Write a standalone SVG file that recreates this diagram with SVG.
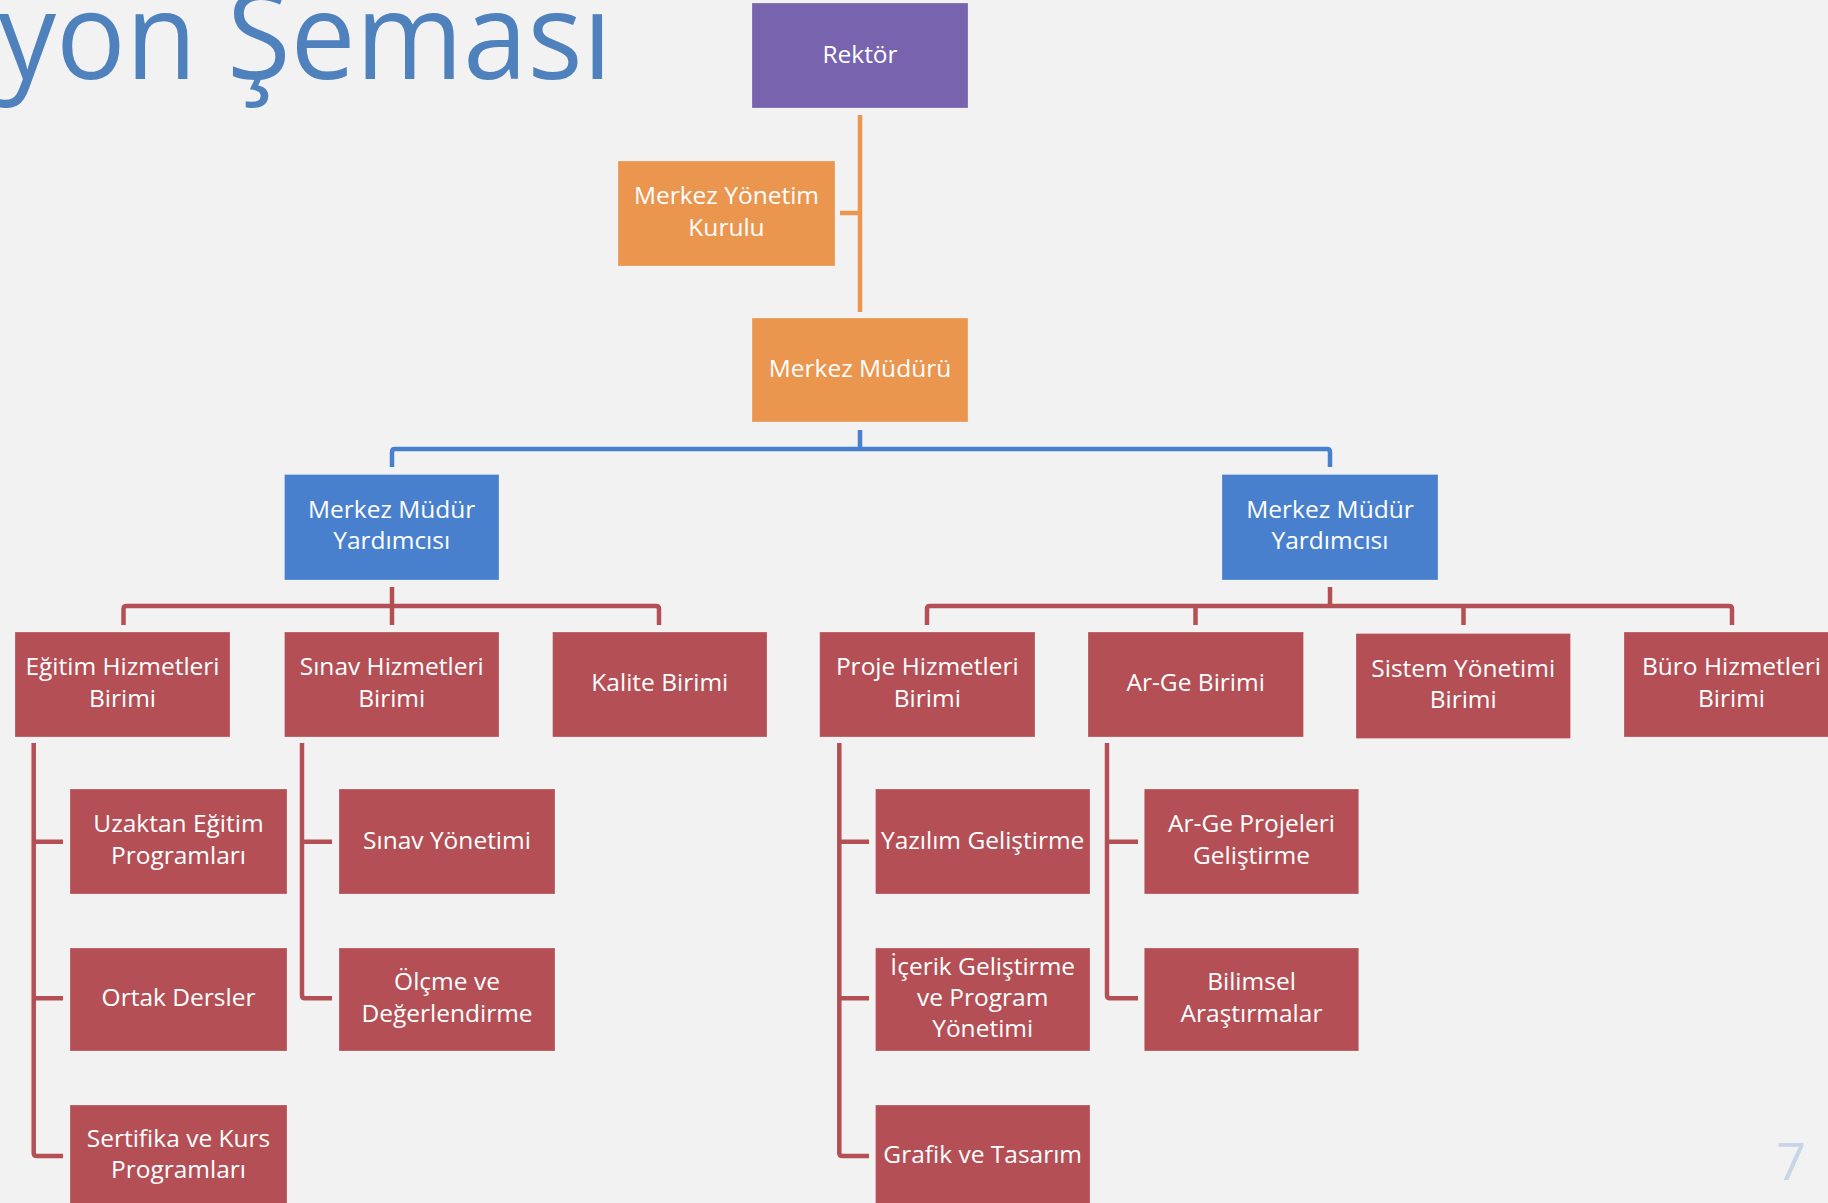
<svg xmlns="http://www.w3.org/2000/svg" width="1828" height="1203" viewBox="0 0 1828 1203">
<style>
.bg{fill:#F2F2F2}
.box text{font-family:"Open Sans","Noto Sans","Liberation Sans",sans-serif;font-size:24.5px;fill:#FFFFFF;text-anchor:middle}
.purple rect{fill:#7763AE}
.orange rect{fill:#EB964F}
.blue rect{fill:#4880CE}
.red rect{fill:#B44F56}
.box rect{stroke:#FFFFFF;stroke-opacity:0.25;stroke-width:1}
.c{fill:none;stroke-width:4.5;stroke-linejoin:round;stroke-linecap:butt}
.co{stroke:#EB964F}
.cb{stroke:#4880CE}
.cr{stroke:#B44F56}
.title{font-family:"Open Sans","Noto Sans","Liberation Sans",sans-serif;font-weight:400;font-size:120px;fill:#4F81BD}
.page{font-family:"Open Sans","Noto Sans","Liberation Sans",sans-serif;font-size:52px;fill:#C8D5E6;text-anchor:middle}
</style>
<rect class="bg" x="0" y="0" width="1828" height="1203"/>
<text class="title" x="-2" y="79" textLength="614" lengthAdjust="spacingAndGlyphs">yon Şeması</text>
<text class="page" x="1791" y="1180">7</text>

<g id="connectors">
  <path class="c co" d="M860 115 V312 M840 213 H860"/>
  <path class="c cb" d="M860 430 V449 M392 467 V452 Q392 449 395 449 H1327 Q1330 449 1330 452 V467"/>
  <path class="c cr" d="M392 587 V625 M123.5 625 V609 Q123.5 606 126.5 606 H656 Q659 606 659 609 V625"/>
  <path class="c cr" d="M1330 587 V606 M927 625 V609 Q927 606 930 606 H1729 Q1732 606 1732 609 V625 M1195.5 606 V625 M1463.5 606 V625"/>
  <path class="c cr" d="M33.7 743 V1153 Q33.7 1156 36.7 1156 H63 M33.7 841.7 H63 M33.7 998.3 H63"/>
  <path class="c cr" d="M302 743 V995.3 Q302 998.3 305 998.3 H332 M302 841.7 H332"/>
  <path class="c cr" d="M839.3 743 V1153 Q839.3 1156 842.3 1156 H869 M839.3 841.7 H869 M839.3 998.3 H869"/>
  <path class="c cr" d="M1107 743 V995.3 Q1107 998.3 1110 998.3 H1138 M1107 841.7 H1138"/>
</g>

<g id="rektor" class="box purple"><rect x="752" y="3" width="216" height="105"/><text x="860" y="62.5">Rektör</text></g>
<g id="merkez-yonetim-kurulu" class="box orange"><rect x="618" y="161" width="217" height="105"/><text x="726.5" y="204">Merkez Yönetim<tspan x="726.5" dy="31.5">Kurulu</tspan></text></g>
<g id="merkez-muduru" class="box orange"><rect x="752" y="318" width="216" height="104"/><text x="860" y="377">Merkez Müdürü</text></g>

<g id="mmy-sol" class="box blue"><rect x="284.5" y="474.5" width="214.5" height="105.5"/><text x="391.7" y="517.5">Merkez Müdür<tspan x="391.7" dy="31.5">Yardımcısı</tspan></text></g>
<g id="mmy-sag" class="box blue"><rect x="1222" y="474.5" width="216" height="105.5"/><text x="1330" y="517.5">Merkez Müdür<tspan x="1330" dy="31.5">Yardımcısı</tspan></text></g>

<g id="egitim-hizmetleri" class="box red"><rect x="15" y="632" width="215" height="105"/><text x="122.5" y="675">Eğitim Hizmetleri<tspan x="122.5" dy="31.5">Birimi</tspan></text></g>
<g id="sinav-hizmetleri" class="box red"><rect x="284.5" y="632" width="214.5" height="105"/><text x="391.7" y="675">Sınav Hizmetleri<tspan x="391.7" dy="31.5">Birimi</tspan></text></g>
<g id="kalite" class="box red"><rect x="552.6" y="632" width="214.4" height="105"/><text x="659.8" y="691">Kalite Birimi</text></g>
<g id="proje-hizmetleri" class="box red"><rect x="819.7" y="632" width="215.3" height="105"/><text x="927.3" y="675">Proje Hizmetleri<tspan x="927.3" dy="31.5">Birimi</tspan></text></g>
<g id="arge" class="box red"><rect x="1088" y="632" width="215.5" height="105"/><text x="1195.7" y="691">Ar-Ge Birimi</text></g>
<g id="sistem-yonetimi" class="box red"><rect x="1356" y="633.5" width="214.5" height="105"/><text x="1463.2" y="676.5">Sistem Yönetimi<tspan x="1463.2" dy="31.5">Birimi</tspan></text></g>
<g id="buro-hizmetleri" class="box red"><rect x="1624" y="632" width="215" height="105"/><text x="1731.5" y="675">Büro Hizmetleri<tspan x="1731.5" dy="31.5">Birimi</tspan></text></g>

<g id="uzaktan-egitim" class="box red"><rect x="70" y="789" width="217" height="105"/><text x="178.5" y="832">Uzaktan Eğitim<tspan x="178.5" dy="31.5">Programları</tspan></text></g>
<g id="ortak-dersler" class="box red"><rect x="70" y="948" width="217" height="103"/><text x="178.5" y="1006">Ortak Dersler</text></g>
<g id="sertifika-kurs" class="box red"><rect x="70" y="1105" width="217" height="105"/><text x="178.5" y="1147">Sertifika ve Kurs<tspan x="178.5" dy="31">Programları</tspan></text></g>

<g id="sinav-yonetimi" class="box red"><rect x="339" y="789" width="216" height="105"/><text x="447" y="848.5">Sınav Yönetimi</text></g>
<g id="olcme-degerlendirme" class="box red"><rect x="339" y="948" width="216" height="103"/><text x="447" y="990">Ölçme ve<tspan x="447" dy="31.5">Değerlendirme</tspan></text></g>

<g id="yazilim-gelistirme" class="box red"><rect x="875.5" y="789" width="214.5" height="105"/><text x="982.7" y="848.5">Yazılım Geliştirme</text></g>
<g id="icerik-gelistirme" class="box red"><rect x="875.5" y="948" width="214.5" height="103"/><text x="982.7" y="975">İçerik Geliştirme<tspan x="982.7" dy="31">ve Program</tspan><tspan x="982.7" dy="30.5">Yönetimi</tspan></text></g>
<g id="grafik-tasarim" class="box red"><rect x="875.5" y="1105" width="214.5" height="105"/><text x="982.7" y="1163">Grafik ve Tasarım</text></g>

<g id="arge-projeleri" class="box red"><rect x="1144.3" y="789" width="214.4" height="105"/><text x="1251.5" y="832">Ar-Ge Projeleri<tspan x="1251.5" dy="31.5">Geliştirme</tspan></text></g>
<g id="bilimsel-arastirmalar" class="box red"><rect x="1144.3" y="948" width="214.4" height="103"/><text x="1251.5" y="990">Bilimsel<tspan x="1251.5" dy="31.5">Araştırmalar</tspan></text></g>
</svg>
